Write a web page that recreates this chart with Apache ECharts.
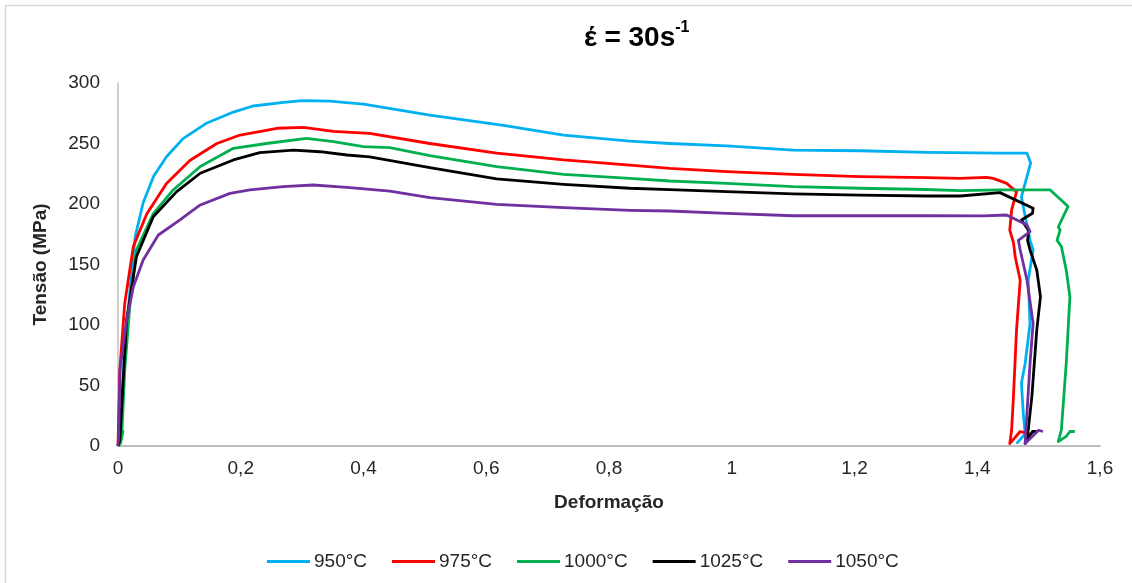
<!DOCTYPE html>
<html>
<head>
<meta charset="utf-8">
<script src="https://cdn.jsdelivr.net/npm/echarts@6/dist/echarts.min.js"></script>
<style>
html,body{margin:0;padding:0;background:#fff;}
#chart{width:1132px;height:583px;}
</style>
</head>
<body>
<div id="chart"></div>
<script>
// ---- Data ----
const seriesNames = ['950°C', '975°C', '1000°C', '1025°C', '1050°C'];
const xTickLabels = ['0', '0,2', '0,4', '0,6', '0,8', '1', '1,2', '1,4', '1,6'];
const yTickLabels = ['0', '50', '100', '150', '200', '250', '300'];

const strain950 = [0, 0.002, 0.009, 0.020, 0.028, 0.041, 0.058, 0.079, 0.106, 0.145, 0.188, 0.220, 0.270, 0.300, 0.345, 0.400, 0.508, 0.628, 0.726, 0.834, 0.899, 0.992, 1.100, 1.209, 1.318, 1.437, 1.481, 1.487, 1.478, 1.472, 1.478, 1.486, 1.491, 1.483, 1.486, 1.478, 1.472, 1.475, 1.478, 1.464];
const stress950 = [0, 5, 63, 132, 173, 201, 223, 239, 254, 267, 276, 281, 284, 285.5, 285, 282.5, 273.5, 265, 257, 252, 250, 248, 244.5, 244, 242.7, 242, 242, 234, 217, 206, 190, 170, 162, 137, 101, 68, 52, 27, 10, 2];

const strain975 = [0, 0.003, 0.011, 0.025, 0.047, 0.079, 0.117, 0.161, 0.199, 0.259, 0.302, 0.351, 0.410, 0.508, 0.617, 0.726, 0.834, 0.899, 0.992, 1.100, 1.209, 1.318, 1.372, 1.415, 1.426, 1.448, 1.464, 1.456, 1.453, 1.459, 1.462, 1.470, 1.464, 1.459, 1.456, 1.453, 1.470, 1.485, 1.478];
const stress975 = [0, 63, 118, 165, 192, 217, 236, 250, 257, 262.6, 263.4, 260, 258.4, 250, 242, 236.4, 232.2, 229.5, 226.7, 224.5, 222.6, 221.8, 221.1, 222, 221.2, 217, 210, 195, 178.5, 168, 156, 137, 96, 41, 13, 2, 12, 10, 3];

const strain1000 = [0, 0.004, 0.008, 0.006, 0.011, 0.0196, 0.030, 0.0575, 0.090, 0.134, 0.188, 0.242, 0.307, 0.351, 0.400, 0.443, 0.508, 0.617, 0.726, 0.834, 0.899, 0.992, 1.100, 1.209, 1.318, 1.372, 1.437, 1.519, 1.548, 1.532, 1.535, 1.530, 1.537, 1.545, 1.551, 1.545, 1.537, 1.532, 1.545, 1.551, 1.559];
const stress1000 = [0, 2, 12, 8, 63, 118, 162, 192, 211.6, 231, 246, 250, 254.3, 251.5, 247.4, 246.6, 240, 230.8, 224.5, 221.2, 219, 217, 214.3, 213, 212, 211, 211.6, 211.6, 198, 181, 178.5, 170, 165, 145.5, 123.4, 68.3, 13.2, 3.6, 8, 12, 12];

const strain1025 = [0, 0.003, 0.014, 0.030, 0.0575, 0.0956, 0.134, 0.188, 0.231, 0.286, 0.329, 0.373, 0.410, 0.508, 0.617, 0.726, 0.834, 0.899, 0.992, 1.100, 1.209, 1.318, 1.372, 1.437, 1.491, 1.490, 1.472, 1.484, 1.482, 1.486, 1.497, 1.503, 1.497, 1.489, 1.483, 1.478, 1.490, 1.497];
const stress1025 = [0, 5, 104, 156.4, 189.5, 210.2, 225.4, 236.4, 242.4, 244.6, 243.2, 240.5, 239, 230, 220.7, 216.3, 213, 211.8, 210.2, 208.3, 207.4, 206.6, 206.6, 209.4, 196.4, 192.3, 186.8, 178, 170, 162, 145.5, 123.4, 96, 41, 13, 2, 12, 12];

const strain1050 = [0, 0.001, 0.0033, 0.014, 0.025, 0.041, 0.0657, 0.101, 0.134, 0.1825, 0.215, 0.269, 0.318, 0.373, 0.443, 0.508, 0.617, 0.726, 0.834, 0.899, 0.992, 1.100, 1.209, 1.318, 1.410, 1.448, 1.481, 1.486, 1.467, 1.470, 1.481, 1.491, 1.486, 1.481, 1.478, 1.500, 1.507];
const stress1050 = [0, 8, 63, 104, 131.7, 153.7, 174.4, 186.8, 199.2, 208.8, 211.6, 214.3, 215.7, 213.8, 210.7, 205.2, 199.7, 197, 194.8, 194.2, 192.3, 190.3, 190.3, 190.3, 190.2, 190.9, 182.6, 177.1, 170, 162, 137.2, 101.4, 68.3, 27, 2, 13, 12];

const strains = [strain950, strain975, strain1000, strain1025, strain1050];
const stresses = [stress950, stress975, stress1000, stress1025, stress1050];
const colors = ['#00B0F0', '#FF0000', '#00B050', '#000000', '#7030A0'];

function zip(xs, ys) { return xs.map((x, i) => [x, ys[i]]); }

const chart = echarts.init(document.getElementById('chart'), null, { renderer: 'canvas' });
const FONT = '"Liberation Sans", Arial, sans-serif';

const option = {
  animation: false,
  backgroundColor: '#ffffff',
  textStyle: { fontFamily: FONT },
  graphic: [
    {
      type: 'rect', silent: true, z: -1,
      shape: { x: 5.5, y: 5.5, width: 1140, height: 600 },
      style: { fill: 'none', stroke: '#d9d9d9', lineWidth: 1.5 }
    },
    {
      type: 'text', left: 584, top: 20, silent: true,
      style: {
        text: '{a|έ = 30s}{b|-1}',
        rich: {
          a: { fontSize: 28, fontWeight: 'bold', fontFamily: FONT, fill: '#000', lineHeight: 36 },
          b: { fontSize: 16, fontWeight: 'bold', fontFamily: FONT, fill: '#000', verticalAlign: 'top', lineHeight: 22 }
        }
      }
    }
  ],
  legend: {
    data: seriesNames,
    left: 262,
    top: 547,
    icon: 'rect',
    itemWidth: 43,
    itemHeight: 3,
    itemGap: 25,
    textStyle: { fontSize: 19, color: '#262626', fontFamily: FONT, padding: [0, 0, 0, -1] }
  },
  grid: { left: 118, right: 32, top: 83, bottom: 137, containLabel: false },
  xAxis: {
    type: 'value', min: 0, max: 1.6, interval: 0.2,
    name: 'Deformação', nameLocation: 'middle', nameGap: 47,
    nameTextStyle: { fontSize: 19, fontWeight: 'bold', color: '#262626', fontFamily: FONT },
    axisLine: { show: true, lineStyle: { color: '#bfbfbf', width: 2 } },
    axisTick: { show: false },
    splitLine: { show: false },
    axisLabel: {
      fontSize: 19, color: '#262626', margin: 13, fontFamily: FONT,
      formatter: (v) => xTickLabels[Math.round(v / 0.2)]
    }
  },
  yAxis: {
    type: 'value', min: 0, max: 300, interval: 50,
    name: 'Tensão (MPa)', nameLocation: 'middle', nameGap: 68,
    nameTextStyle: { fontSize: 19, fontWeight: 'bold', color: '#262626', fontFamily: FONT },
    axisLine: { show: true, lineStyle: { color: '#bfbfbf', width: 1.5 } },
    axisTick: { show: false },
    splitLine: { show: false },
    axisLabel: {
      fontSize: 19, color: '#262626', margin: 18, fontFamily: FONT,
      formatter: (v) => yTickLabels[Math.round(v / 50)]
    }
  },
  series: seriesNames.map((name, i) => ({
    name: name,
    type: 'line',
    data: zip(strains[i], stresses[i]),
    symbol: 'none',
    showSymbol: false,
    smooth: false,
    clip: false,
    color: colors[i],
    lineStyle: { color: colors[i], width: 2.8, join: 'round' }
  }))
};
chart.setOption(option);
</script>
</body>
</html>
